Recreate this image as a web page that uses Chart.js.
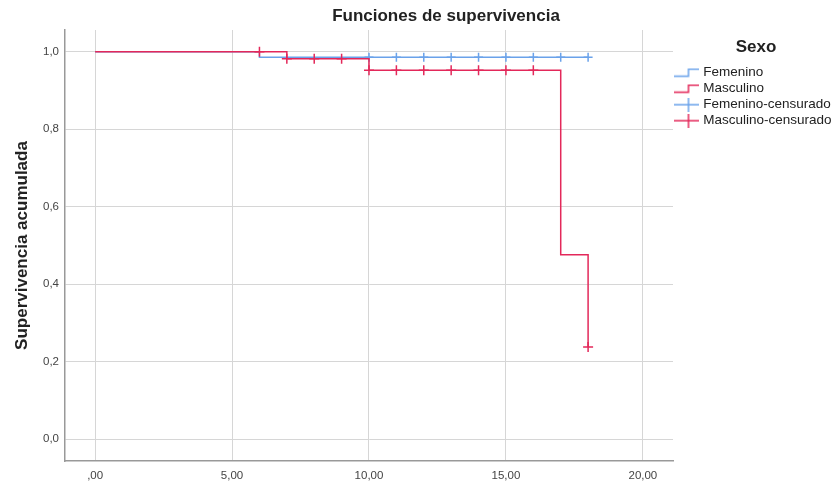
<!DOCTYPE html>
<html>
<head>
<meta charset="utf-8">
<title>Funciones de supervivencia</title>
<script src="https://cdn.jsdelivr.net/npm/chart.js@4.4.1/dist/chart.umd.min.js"></script>
<style>
  html, body { margin: 0; padding: 0; background: #fff; }
  #wrap { width: 839px; height: 483px; }
</style>
</head>
<body>
<div id="wrap"><canvas id="kmChart" width="839" height="483"></canvas></div>
<script>
// Kaplan-Meier data
const femTimes = [0, 6, 18];
const femSurv = [1.0, 0.986, 0.986];
const mascTimes = [0, 7, 10, 17, 18];
const mascSurv = [1.0, 0.982, 0.952, 0.476, 0.238];

const femCensTimes = [10, 11, 12, 13, 14, 15, 16, 17, 18];
const femCensSurv = [0.986, 0.986, 0.986, 0.986, 0.986, 0.986, 0.986, 0.986, 0.986];
const mascCensTimes = [6, 7, 8, 9, 10, 11, 12, 13, 14, 15, 16, 18];
const mascCensSurv = [1.0, 0.982, 0.982, 0.982, 0.952, 0.952, 0.952, 0.952, 0.952, 0.952, 0.952, 0.238];

const seriesNames = ['Femenino', 'Masculino', 'Femenino-censurado', 'Masculino-censurado'];
const xTickValues = [0, 5, 10, 15, 20];
const xTickLabels = [',00', '5,00', '10,00', '15,00', '20,00'];
const yTickValues = [0, 0.2, 0.4, 0.6, 0.8, 1.0];
const yTickLabels = ['0,0', '0,2', '0,4', '0,6', '0,8', '1,0'];

const BLUE = '#6aa2ea';
const RED = '#e3285a';

function toPoints(xs, ys) {
  return xs.map((x, i) => ({ x: x, y: ys[i] }));
}

// legend icons: a little step for the curves, a cross for censored marks
function stepIcon(color) {
  const c = document.createElement('canvas');
  c.width = 25; c.height = 10;
  const g = c.getContext('2d');
  g.strokeStyle = color; g.lineWidth = 1.5;
  g.beginPath();
  g.moveTo(0, 8.5); g.lineTo(15, 8.5); g.lineTo(15, 1.5); g.lineTo(25, 1.5);
  g.stroke();
  return c;
}
function crossIcon(color) {
  const c = document.createElement('canvas');
  c.width = 25; c.height = 14;
  const g = c.getContext('2d');
  g.strokeStyle = color; g.lineWidth = 1.5;
  g.beginPath();
  g.moveTo(0, 7); g.lineTo(25, 7);
  g.moveTo(15, 0); g.lineTo(15, 14);
  g.stroke();
  return c;
}
const legendIcons = [stepIcon(BLUE), stepIcon(RED), crossIcon(BLUE), crossIcon(RED)];

Chart.defaults.font.family = 'Arial, "Liberation Sans", sans-serif';
Chart.defaults.color = '#333';

// chart title, drawn a bit right of centre like the original
const titlePlugin = {
  id: 'kmTitle',
  afterDraw(chart) {
    const ctx = chart.ctx;
    ctx.save();
    ctx.font = 'bold 17px Arial, "Liberation Sans", sans-serif';
    ctx.fillStyle = '#222';
    ctx.textAlign = 'center';
    ctx.textBaseline = 'middle';
    ctx.fillText('Funciones de supervivencia', 446, 16);
    ctx.restore();
  }
};

const ctx = document.getElementById('kmChart').getContext('2d');
const kmChart = new Chart(ctx, {
  type: 'line',
  data: {
    datasets: [
      {
        label: seriesNames[0],
        data: toPoints(femTimes, femSurv),
        borderColor: BLUE,
        borderWidth: 1.5,
        stepped: true,
        pointRadius: 0,
        fill: false,
        order: 3
      },
      {
        label: seriesNames[1],
        data: toPoints(mascTimes, mascSurv),
        borderColor: RED,
        borderWidth: 1.5,
        stepped: true,
        pointRadius: 0,
        fill: false,
        order: 1
      },
      {
        label: seriesNames[2],
        data: toPoints(femCensTimes, femCensSurv),
        showLine: false,
        pointStyle: 'cross',
        pointRadius: 4.5,
        borderColor: BLUE,
        pointBorderWidth: 1.5,
        order: 2
      },
      {
        label: seriesNames[3],
        data: toPoints(mascCensTimes, mascCensSurv),
        showLine: false,
        pointStyle: 'cross',
        pointRadius: 5,
        borderColor: RED,
        pointBorderWidth: 1.5,
        order: 0
      }
    ]
  },
  options: {
    responsive: false,
    animation: false,
    layout: { padding: { top: 30, left: 8, right: 0, bottom: 0 } },
    plugins: {
      tooltip: { enabled: false },
      legend: {
        position: 'right',
        align: 'start',
        maxWidth: 166,
        title: {
          display: true,
          text: 'Sexo',
          color: '#222',
          font: { size: 17, weight: 'bold' },
          padding: { top: 9, bottom: 4 }
        },
        labels: {
          usePointStyle: true,
          pointStyleWidth: 21,
          padding: 2.5,
          color: '#222',
          font: { size: 13.5 },
          sort: (a, b) => a.datasetIndex - b.datasetIndex,
          generateLabels(chart) {
            const items = Chart.defaults.plugins.legend.labels.generateLabels(chart);
            items.forEach(it => { it.pointStyle = legendIcons[it.datasetIndex]; });
            return items;
          }
        }
      }
    },
    scales: {
      x: {
        type: 'linear',
        min: -1.1,
        max: 21.1,
        afterFit(scale) { scale.height = 22; },
        afterBuildTicks(scale) { scale.ticks = xTickValues.map(v => ({ value: v })); },
        ticks: {
          includeBounds: false,
          padding: 8,
          color: '#444',
          font: { size: 11.5 },
          callback: (v) => xTickLabels[xTickValues.indexOf(v)]
        },
        grid: { color: '#d6d6d6', lineWidth: 1, drawTicks: false },
        border: { color: '#999', width: 1.5 }
      },
      y: {
        min: -0.056,
        max: 1.056,
        afterFit(scale) { scale.width = 57; },
        afterBuildTicks(scale) { scale.ticks = yTickValues.map(v => ({ value: v })); },
        title: {
          display: true,
          text: 'Supervivencia acumulada',
          color: '#222',
          font: { size: 17, weight: 'bold' }
        },
        ticks: {
          includeBounds: false,
          padding: 6,
          color: '#444',
          font: { size: 11.5 },
          callback: (v) => yTickLabels[yTickValues.findIndex(t => Math.abs(t - v) < 1e-6)]
        },
        grid: { color: '#d6d6d6', lineWidth: 1, drawTicks: false },
        border: { color: '#999', width: 1.5 }
      }
    }
  },
  plugins: [titlePlugin]
});
</script>
</body>
</html>
